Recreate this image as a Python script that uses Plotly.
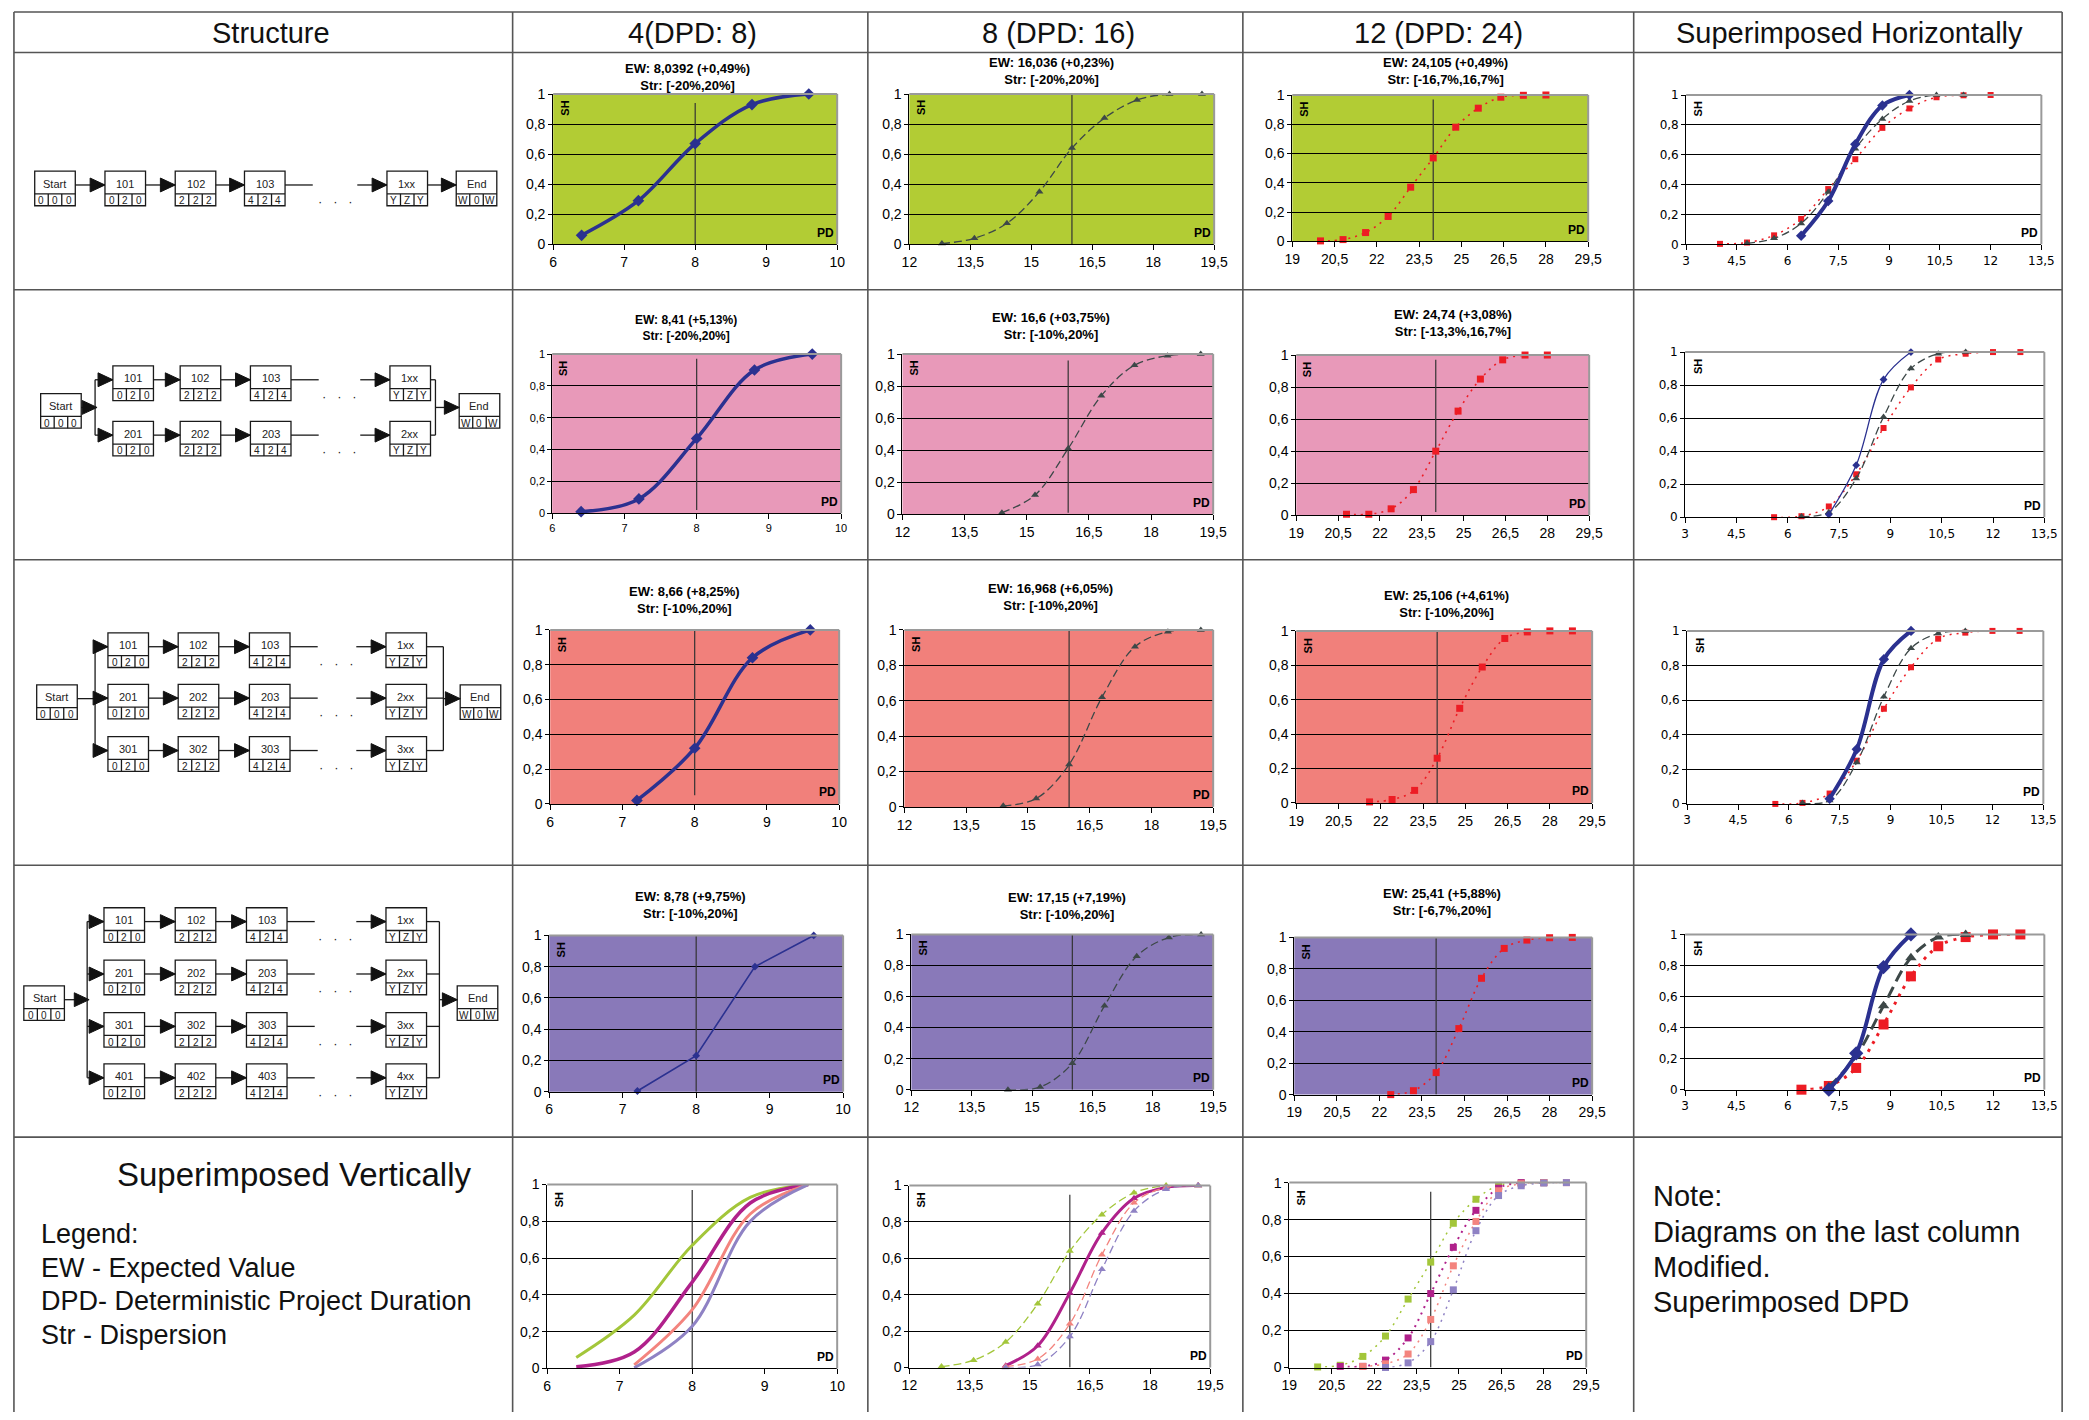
import plotly.graph_objects as go

W, H = 2089, 1420

# ---------------- data ----------------
HEADERS = ["Structure", "4(DPD: 8)", "8 (DPD: 16)", "12 (DPD: 24)", "Superimposed Horizontally"]
DPD = [8, 16, 24]

# Row 1 (single chain)
R1_X4 = [6.4, 7.2, 8.0, 8.8, 9.6]
R1_Y4 = [0.06, 0.29, 0.67, 0.93, 1.0]
R1_X8 = [12.8, 13.6, 14.4, 15.2, 16.0, 16.8, 17.6, 18.4, 19.2]
R1_Y8 = [0.005, 0.04, 0.14, 0.35, 0.64, 0.84, 0.96, 1.0, 1.0]
R1_X12 = [20.0, 20.8, 21.6, 22.4, 23.2, 24.0, 24.8, 25.6, 26.4, 27.2, 28.0]
R1_Y12 = [0.003, 0.012, 0.06, 0.17, 0.37, 0.57, 0.78, 0.91, 0.985, 0.998, 1.0]
# Row 2 (two chains)
R2_X4 = [6.4, 7.2, 8.0, 8.8, 9.6]
R2_Y4 = [0.01, 0.09, 0.47, 0.90, 1.0]
R2_X8 = [14.4, 15.2, 16.0, 16.8, 17.6, 18.4, 19.2]
R2_Y8 = [0.01, 0.12, 0.41, 0.74, 0.93, 0.99, 1.0]
R2_X12 = [20.8, 21.6, 22.4, 23.2, 24.0, 24.8, 25.6, 26.4, 27.2, 28.0]
R2_Y12 = [0.006, 0.006, 0.04, 0.16, 0.40, 0.65, 0.85, 0.97, 1.0, 1.0]
# Row 3 (three chains)
R3_X4 = [7.2, 8.0, 8.8, 9.6]
R3_Y4 = [0.02, 0.32, 0.84, 1.0]
R3_X8 = [14.4, 15.2, 16.0, 16.8, 17.6, 18.4, 19.2]
R3_Y8 = [0.006, 0.047, 0.24, 0.62, 0.905, 0.99, 1.0]
R3_X12 = [21.6, 22.4, 23.2, 24.0, 24.8, 25.6, 26.4, 27.2, 28.0, 28.8]
R3_Y12 = [0.006, 0.02, 0.073, 0.26, 0.55, 0.79, 0.956, 0.994, 1.0, 1.0]
# Row 4 (four chains)
R4_X4 = [7.2, 8.0, 8.8, 9.6]
R4_Y4 = [0.004, 0.23, 0.80, 1.0]
R4_X8 = [14.4, 15.2, 16.0, 16.8, 17.6, 18.4, 19.2]
R4_Y8 = [0.0, 0.017, 0.17, 0.54, 0.86, 0.98, 1.0]
R4_X12 = [22.4, 23.2, 24.0, 24.8, 25.6, 26.4, 27.2, 28.0, 28.8]
R4_Y12 = [0.0, 0.025, 0.14, 0.42, 0.74, 0.93, 0.983, 0.998, 1.0]

# Superimposed horizontally (last column, modified)
H1_XB = [6.4, 7.2, 8.0, 8.8, 9.6]
H1_YB = [0.057, 0.29, 0.67, 0.93, 1.0]
H1_XG = [4.8, 5.6, 6.4, 7.2, 8.0, 8.8, 9.6, 10.4, 11.2]
H1_YG = [0.007, 0.04, 0.14, 0.35, 0.64, 0.84, 0.96, 1.0, 1.0]
H1_XR = [4.0, 4.8, 5.6, 6.4, 7.2, 8.0, 8.8, 9.6, 10.4, 11.2, 12.0]
H1_YR = [0.003, 0.012, 0.06, 0.17, 0.37, 0.57, 0.78, 0.91, 0.985, 0.998, 1.0]

H2_XB = [7.2, 8.0, 8.8, 9.6]
H2_YB = [0.016, 0.315, 0.834, 1.0]
H2_XG = [6.4, 7.2, 8.0, 8.8, 9.6, 10.4, 11.2]
H2_YG = [0.004, 0.03, 0.234, 0.607, 0.90, 0.99, 1.0]
H2_XR = [5.6, 6.4, 7.2, 8.0, 8.8, 9.6, 10.4, 11.2, 12.0, 12.8]
H2_YR = [0.0, 0.006, 0.065, 0.26, 0.54, 0.786, 0.955, 0.99, 1.0, 1.0]

H3_XB = [7.2, 8.0, 8.8, 9.6]
H3_YB = [0.03, 0.316, 0.836, 1.0]
H3_XG = [6.4, 7.2, 8.0, 8.8, 9.6, 10.4, 11.2]
H3_YG = [0.005, 0.02, 0.24, 0.62, 0.90, 0.985, 1.0]
H3_XR = [5.6, 6.4, 7.2, 8.0, 8.8, 9.6, 10.4, 11.2, 12.0, 12.8]
H3_YR = [0.0, 0.006, 0.06, 0.25, 0.55, 0.79, 0.955, 0.99, 1.0, 1.0]

H4_XB = [7.2, 8.0, 8.8, 9.6]
H4_YB = [0.0, 0.234, 0.79, 1.0]
H4_XG = [7.2, 8.0, 8.8, 9.6, 10.4, 11.2]
H4_YG = [0.017, 0.217, 0.54, 0.85, 0.983, 1.0]
H4_XR = [6.4, 7.2, 8.0, 8.8, 9.6, 10.4, 11.2, 12.0, 12.8]
H4_YR = [0.0, 0.024, 0.14, 0.42, 0.73, 0.924, 0.983, 1.0, 1.0]

EW_TEXT = [
    ["EW: 8,0392 (+0,49%)", "EW: 16,036 (+0,23%)", "EW: 24,105 (+0,49%)"],
    ["EW: 8,41 (+5,13%)", "EW: 16,6 (+03,75%)", "EW: 24,74 (+3,08%)"],
    ["EW: 8,66 (+8,25%)", "EW: 16,968 (+6,05%)", "EW: 25,106 (+4,61%)"],
    ["EW: 8,78 (+9,75%)", "EW: 17,15 (+7,19%)", "EW: 25,41 (+5,88%)"],
]
STR_TEXT = [
    ["Str: [-20%,20%]", "Str: [-20%,20%]", "Str: [-16,7%,16,7%]"],
    ["Str: [-20%,20%]", "Str: [-10%,20%]", "Str: [-13,3%,16,7%]"],
    ["Str: [-10%,20%]", "Str: [-10%,20%]", "Str: [-10%,20%]"],
    ["Str: [-10%,20%]", "Str: [-10%,20%]", "Str: [-6,7%,20%]"],
]
LEGEND_LINES = ["Legend:", "EW - Expected Value", "DPD- Deterministic Project Duration", "Str - Dispersion"]
NOTE_LINES = ["Note:", "Diagrams on the last column", "Modified.", "Superimposed DPD"]

# ---------------- styling ----------------
SANS = "Liberation Sans, Arial, sans-serif"
NARROW = "Liberation Sans Narrow, Arial Narrow, Liberation Sans, Arial, sans-serif"
WIDE = "DejaVu Sans, Verdana, sans-serif"
BLUE = "#2b3190"
GRAY = "#3d4848"
RED = "#ed1c24"
GREEN = "#a3c63a"
MAGENTA = "#b0218b"
SALMON = "#f3847e"
PURPLE = "#8f82c4"
ROW_BG = {1: "#b2cc34", 2: "#e899b9", 3: "#f1807b", 4: "#8979b9", 5: "white"}

BOXES = {
    (1, 2): (551, 87, 838, 239), (1, 3): (911, 87, 1219, 239), (1, 4): (1298, 88, 1597, 236), (1, 5): (1696, 88, 2055, 239),
    (2, 2): (550, 350, 842, 511), (2, 3): (904, 350, 1218, 512), (2, 4): (1302, 351, 1598, 513), (2, 5): (1695, 348, 2058, 515),
    (3, 2): (548, 629, 840, 805), (3, 3): (906, 629, 1218, 808), (3, 4): (1302, 630, 1601, 804), (3, 5): (1697, 630, 2057, 805),
    (4, 2): (547, 938, 844, 1096), (4, 3): (913, 937, 1218, 1094), (4, 4): (1300, 940, 1601, 1099), (4, 5): (1695, 937, 2058, 1094),
    (5, 2): (545, 1190, 838, 1376), (5, 3): (911, 1191, 1215, 1375), (5, 4): (1295, 1188, 1595, 1375),
}
COLAX = {2: ([6, 10], 1), 3: ([12, 19.5], 1.5), 4: ([19, 29.5], 1.5), 5: ([3, 13.5], 1.5)}
TITLE_POS = {(1, 2): (687, 70), (1, 3): (1055, 64), (1, 4): (1453, 64),
             (2, 2): (685, 324), (2, 3): (1054, 322), (2, 4): (1460, 319),
             (3, 2): (684, 599), (3, 3): (1054, 596), (3, 4): (1454, 603),
             (4, 2): (690, 907), (4, 3): (1070, 908), (4, 4): (1449, 904)}
VLINE = {(1, 2): (0, 0.94), (1, 3): (0, 1), (1, 4): (0.01, 0.97),
         (2, 2): (0.02, 0.97), (2, 3): (0.01, 0.96), (2, 4): (0.02, 0.97),
         (3, 2): (0.05, 1), (3, 3): (0, 1), (3, 4): (0, 1),
         (4, 2): (0, 1), (4, 3): (0, 1), (4, 4): (0, 1),
         (5, 2): (0, 0.97), (5, 3): (0, 0.95), (5, 4): (0, 0.95)}

fig = go.Figure()
shapes = []
annotations = []
axes_layout = {}
AX = {}


def xid(i):
    return "x" if i == 1 else f"x{i}"


def yid(i):
    return "y" if i == 1 else f"y{i}"


def make_axes(r, c):
    i = len(AX) + 1
    AX[(r, c)] = i
    x0, y0, x1, y1 = BOXES[(r, c)]
    rng, dt = COLAX[c]
    if c == 5:
        fam, fs = WIDE, 12
    elif (r, c) == (2, 2):
        fam, fs = NARROW, 11
    elif r in (1, 5):
        fam, fs = SANS, 14
    else:
        fam, fs = NARROW, 14
    axes_layout["xaxis" if i == 1 else f"xaxis{i}"] = dict(
        domain=[x0 / W, x1 / W], anchor=yid(i), range=rng, dtick=dt, tick0=rng[0],
        showgrid=False, zeroline=False, showline=True, linecolor="black", linewidth=1,
        ticks="outside", ticklen=5, tickcolor="black", tickfont=dict(family=fam, size=fs, color="black"),
        fixedrange=True)
    axes_layout["yaxis" if i == 1 else f"yaxis{i}"] = dict(
        domain=[1 - y1 / H, 1 - y0 / H], anchor=xid(i), range=[0, 1], dtick=0.2, tick0=0,
        showgrid=True, gridcolor="black", gridwidth=1, zeroline=False, showline=True,
        linecolor="black", linewidth=1, ticks="outside", ticklen=4, tickcolor="black",
        tickfont=dict(family=fam, size=fs, color="black"), fixedrange=True)
    xd, yd = xid(i) + " domain", yid(i) + " domain"
    shapes.append(dict(type="rect", xref=xd, yref=yd, x0=0, x1=1, y0=0, y1=1, layer="below",
                       fillcolor=ROW_BG[r] if c != 5 else "white", line=dict(width=0)))
    shapes.append(dict(type="line", xref=xd, yref=yd, x0=0, x1=1, y0=1, y1=1, line=dict(color="#9a9a9a", width=2)))
    shapes.append(dict(type="line", xref=xd, yref=yd, x0=1, x1=1, y0=0, y1=1, line=dict(color="#9a9a9a", width=2)))
    annotations.append(dict(xref=xd, yref=yd, x=0.012, y=0.97, text="<b>SH</b>", textangle=-90, showarrow=False,
                            xanchor="left", yanchor="top", font=dict(family=SANS, size=11, color="black")))
    annotations.append(dict(xref=xd, yref=yd, x=0.995, y=0.015, text="<b>PD</b>", showarrow=False,
                            xanchor="right", yanchor="bottom", font=dict(family=SANS, size=12, color="black")))
    if c in (2, 3, 4):
        b0, b1 = VLINE[(r, c)]
        d = DPD[c - 2]
        shapes.append(dict(type="line", xref=xid(i), yref=yid(i), x0=d, x1=d, y0=b0, y1=b1, layer="between",
                           line=dict(color="#333333", width=1.2)))
    if (r, c) in TITLE_POS:
        tx, ty = TITLE_POS[(r, c)]
        if r == 1:
            tfam, tfs = SANS, 13
        elif (r, c) == (2, 2):
            tfam, tfs = NARROW, 12
        else:
            tfam, tfs = NARROW, 13
        annotations.append(dict(xref="paper", yref="paper", x=tx / W, y=1 - ty / H,
                                text=f"<b>{EW_TEXT[r - 1][c - 2]}<br>{STR_TEXT[r - 1][c - 2]}</b>",
                                showarrow=False, xanchor="center", yanchor="middle",
                                font=dict(family=tfam, size=tfs, color="black")))
    return i


def series(i, x, y, color, width, dash, symbol, msize, shape="spline", markers=True):
    fig.add_trace(go.Scatter(
        x=x, y=y, xaxis=xid(i), yaxis=yid(i), mode="lines+markers" if markers else "lines",
        line=dict(color=color, width=width, dash=dash, shape=shape),
        marker=dict(symbol=symbol, size=msize, color=color, line=dict(width=0)),
        cliponaxis=False, showlegend=False, hoverinfo="skip"))


DASH = "8px,4px"
DOT = "2px,5px"

ROWS = [(R1_X4, R1_Y4, R1_X8, R1_Y8, R1_X12, R1_Y12),
        (R2_X4, R2_Y4, R2_X8, R2_Y8, R2_X12, R2_Y12),
        (R3_X4, R3_Y4, R3_X8, R3_Y8, R3_X12, R3_Y12),
        (R4_X4, R4_Y4, R4_X8, R4_Y8, R4_X12, R4_Y12)]
SUPH = [(H1_XB, H1_YB, H1_XG, H1_YG, H1_XR, H1_YR),
        (H2_XB, H2_YB, H2_XG, H2_YG, H2_XR, H2_YR),
        (H3_XB, H3_YB, H3_XG, H3_YG, H3_XR, H3_YR),
        (H4_XB, H4_YB, H4_XG, H4_YG, H4_XR, H4_YR)]

for r in range(1, 5):
    x4, y4, x8, y8, x12, y12 = ROWS[r - 1]
    i = make_axes(r, 2)
    if r == 4:
        series(i, x4, y4, BLUE, 1.6, "solid", "diamond", 6, shape="linear")
    else:
        series(i, x4, y4, BLUE, 3.5, "solid", "diamond", 9)
    i = make_axes(r, 3)
    series(i, x8, y8, GRAY, 1.3, DASH, "triangle-up", 7)
    i = make_axes(r, 4)
    series(i, x12, y12, RED, 1.6, DOT, "square", 7)
    i = make_axes(r, 5)
    xb, yb, xg, yg, xr, yr = SUPH[r - 1]
    if r == 4:
        series(i, xr, yr, RED, 3, "3px,6px", "square", 10)
        series(i, xg, yg, GRAY, 3, "12px,6px", "triangle-up", 10)
        series(i, xb, yb, BLUE, 4, "solid", "diamond", 11)
    else:
        series(i, xr, yr, RED, 1.5, DOT, "square", 6)
        series(i, xg, yg, GRAY, 1.3, DASH, "triangle-up", 7)
        if r == 2:
            series(i, xb, yb, BLUE, 1.3, "solid", "diamond", 6)
        else:
            series(i, xb, yb, BLUE, 4, "solid", "diamond", 8)

# Row 5: superimposed vertically
VCOL = [GREEN, MAGENTA, SALMON, PURPLE]
i = make_axes(5, 2)
for k, rowdata in enumerate(ROWS):
    series(i, rowdata[0], rowdata[1], VCOL[k], 3.5 if k == 1 else 3, "solid", "circle", 4, markers=False)
i = make_axes(5, 3)
for k, rowdata in enumerate(ROWS):
    series(i, rowdata[2], rowdata[3], VCOL[k], 3 if k == 1 else 1.3, "solid" if k == 1 else DASH, "triangle-up", 7)
i = make_axes(5, 4)
for k, rowdata in enumerate(ROWS):
    series(i, rowdata[4], rowdata[5], VCOL[k], 2 if k == 1 else 1.5, DOT, "square", 7)


# ---------------- table + structure diagrams (paper pixels) ----------------
def px(x):
    return x / W


def py(y):
    return 1 - y / H


def pline(x0, y0, x1, y1, w=1.3, c="#1a1a1a"):
    shapes.append(dict(type="line", xref="paper", yref="paper", x0=px(x0), y0=py(y0), x1=px(x1), y1=py(y1),
                       line=dict(color=c, width=w)))


def ptext(x, y, t, size, xanchor="center", family=SANS, color="#222222"):
    annotations.append(dict(xref="paper", yref="paper", x=px(x), y=py(y), text=t, showarrow=False,
                            xanchor=xanchor, yanchor="middle", font=dict(family=family, size=size, color=color)))


def arrowhead(xt, y, s=15, hh=7):
    path = f"M {px(xt - s)},{py(y - hh)} L {px(xt)},{py(y)} L {px(xt - s)},{py(y + hh)} Z"
    shapes.append(dict(type="path", xref="paper", yref="paper", path=path, fillcolor="#111111",
                       line=dict(color="#111111", width=1)))


NW, NH1, NH2 = 41, 23, 12


def node(x, top, label, cells):
    shapes.append(dict(type="rect", xref="paper", yref="paper", x0=px(x), y0=py(top), x1=px(x + NW),
                       y1=py(top + NH1 + NH2), line=dict(color="#1a1a1a", width=1.3), fillcolor="white"))
    pline(x, top + NH1, x + NW, top + NH1)
    for k in (1, 2):
        pline(x + k * NW / 3, top + NH1, x + k * NW / 3, top + NH1 + NH2)
    ptext(x + NW / 2, top + NH1 / 2 + 1, label, 11)
    for k, ch in enumerate(cells):
        ptext(x + (k + 0.5) * NW / 3, top + NH1 + NH2 / 2 + 1, ch, 10)


CHAIN_SUFFIX = ["01", "02", "03", "xx"]
CHAIN_CELLS = [["0", "2", "0"], ["2", "2", "2"], ["4", "2", "4"], ["Y", "Z", "Y"]]


def structure(chain_tops, chain_x, start_x, end_x, bx, mx):
    ay_off = 14
    ays = [t + ay_off for t in chain_tops]
    mid = (ays[0] + ays[-1]) / 2
    for k, (t, ay) in enumerate(zip(chain_tops, ays)):
        for j in range(4):
            node(chain_x[j], t, f"{k + 1}{CHAIN_SUFFIX[j]}", CHAIN_CELLS[j])
        for j in range(2):
            pline(chain_x[j] + NW, ay, chain_x[j + 1], ay)
            arrowhead(chain_x[j + 1], ay)
        pline(chain_x[2] + NW, ay, chain_x[2] + NW + 28, ay)
        ptext((chain_x[2] + NW + 28 + chain_x[3] - 30) / 2, ay + 17, "·   ·   ·", 13)
        pline(chain_x[3] - 30, ay, chain_x[3], ay)
        arrowhead(chain_x[3], ay)
    node(start_x, mid - ay_off, "Start", ["0", "0", "0"])
    node(end_x, mid - ay_off, "End", ["W", "0", "W"])
    if len(chain_tops) == 1:
        pline(start_x + NW, mid, chain_x[0], mid)
        arrowhead(chain_x[0], mid)
        pline(chain_x[3] + NW, mid, end_x, mid)
        arrowhead(end_x, mid)
    else:
        pline(start_x + NW, mid, bx, mid)
        if len(chain_tops) % 2 == 0:
            arrowhead(bx + 2, mid)
        pline(bx, ays[0], bx, ays[-1])
        for ay in ays:
            pline(bx, ay, chain_x[0], ay)
            arrowhead(chain_x[0], ay)
            pline(chain_x[3] + NW, ay, mx, ay)
        pline(mx, ays[0], mx, ays[-1])
        pline(mx, mid, end_x, mid)
        arrowhead(end_x, mid)


structure([165], [98, 169, 239, 383], 27, 453, None, None)
structure([362, 418], [106, 174, 245, 386], 33, 456, 88, 432)
structure([632, 684, 737], [101, 172, 244, 382], 29, 457, 88, 440)
structure([910, 963, 1016, 1068], [97, 169, 241, 382], 16, 454, 80, 436)

# table grid
for y in [4, 45, 285, 558, 867, 1142]:
    pline(6, y, 2076, y, w=1.6, c="#555555")
for x in [6, 510, 869, 1248, 1643, 2076]:
    pline(x, 4, x, 1420, w=1.6, c="#555555")

HEADER_X = [266, 692, 1062, 1446, 1861]
for hx, ht in zip(HEADER_X, HEADERS):
    ptext(hx, 25, ht, 29, color="#111111")

ptext(290, 1180, "Superimposed Vertically", 33, color="#111111")
for k, t in enumerate(LEGEND_LINES):
    ptext(31, 1240 + k * 34, t, 27, xanchor="left", color="#111111")
for k, t in enumerate(NOTE_LINES):
    ptext(1660, 1202 + k * 35.5, t, 29, xanchor="left", color="#111111")

fig.update_layout(
    width=W, height=H, margin=dict(l=0, r=0, t=0, b=0), autosize=False,
    paper_bgcolor="white", plot_bgcolor="rgba(0,0,0,0)", separators=", ",
    shapes=shapes, annotations=annotations, showlegend=False,
    font=dict(family=SANS, color="black"), **axes_layout)

fig.write_html("out.html", config={"displayModeBar": False},
               post_script="document.body.style.margin='0px';")
